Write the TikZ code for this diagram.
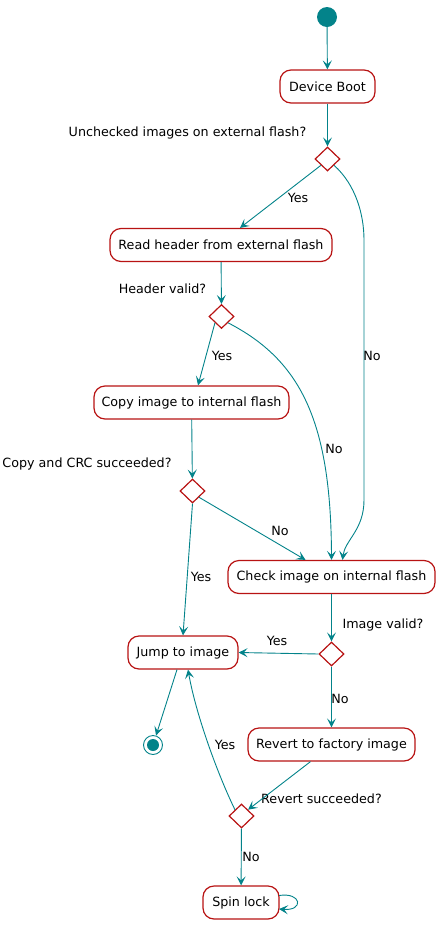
\documentclass[tikz,border=0pt]{standalone}
\usepackage{fontspec}
\setmainfont{DejaVu Sans}
\usetikzlibrary{shapes.geometric,arrows.meta,calc}
\definecolor{teal1}{HTML}{03838A}
\definecolor{red1}{HTML}{B81313}
\tikzset{
  act/.style={draw=red1,line width=1.2pt,fill=white,rounded corners=11pt,minimum height=33pt,inner sep=0pt,font=\fontsize{12.7}{14}\selectfont},
  dec/.style={draw=red1,line width=1.2pt,fill=white,shape=diamond,minimum width=25pt,minimum height=24pt,inner sep=0pt},
  flow/.style={draw=teal1,line width=0.9pt,-{Stealth[length=9pt,width=9pt,inset=4pt]}},
  lbl/.style={font=\fontsize{12.7}{14}\selectfont,inner sep=0pt}
}
\begin{document}
\begin{tikzpicture}[x=1pt,y=-1pt]
\useasboundingbox (0,0) rectangle (445,930);
% nodes
\node[circle,fill=teal1,minimum size=20pt,inner sep=0pt] (start) at (327,17) {};
\node[act,minimum width=95pt] (boot) at (327.5,86.5) {Device Boot};
\node[dec] (d1) at (327.5,159) {};
\node[act,minimum width=222pt] (read) at (221,245) {Read header from external flash};
\node[dec] (d2) at (221.5,316.5) {};
\node[act,minimum width=195pt] (copy) at (191.5,402.5) {Copy image to internal flash};
\node[dec] (d3) at (192.5,491) {};
\node[act,minimum width=207pt] (check) at (331.5,577) {Check image on internal flash};
\node[dec] (d4) at (331.5,654) {};
\node[act,minimum width=110pt] (jump) at (183,652.5) {Jump to image};
\node[act,minimum width=167pt] (revert) at (331.5,744.5) {Revert to factory image};
\node[circle,draw=teal1,line width=0.9pt,minimum size=19pt,inner sep=0pt] (end) at (153,745) {};
\node[circle,fill=teal1,minimum size=12pt,inner sep=0pt] at (end) {};
\node[dec] (d5) at (241.5,816) {};
\node[act,minimum width=76pt] (spin) at (241,902.5) {Spin lock};
% decision labels
\node[lbl] (q1) at (187.5,133) {Unchecked images on external flash?};
\node[lbl] (q2) at (162.5,289) {Header valid?};
\node[lbl] (q3) at (87,464) {Copy and CRC succeeded?};
\node[lbl] (q4) at (383,625) {Image valid?};
\node[lbl] (q5) at (321.5,799) {Revert succeeded?};
% edges
\draw[flow] (start) -- (boot);
\draw[flow] (boot) -- (d1);
\draw[flow] (d1.south west) -- ([xshift=19pt]read.north);
\draw[flow] (d1.south east) .. controls (356,185) and (364,215) .. (364,240) -- (364,500) .. controls (364,530) and (345,540) .. ([xshift=11pt]check.north);
\draw[flow] (read) -- (d2);
\draw[flow] (d2.south west) -- ([xshift=6.5pt]copy.north);
\draw[flow] (d2.south east) .. controls (300,360) and (331,420) .. (check.north);
\draw[flow] (copy) -- (d3);
\draw[flow] (d3.south east) -- ([xshift=-26pt]check.north);
\draw[flow] (d3.south) -- (jump.north);
\draw[flow] (check) -- (d4);
\draw[flow] (d4.west) -- (jump.east);
\draw[flow] (d4) -- (revert);
\draw[flow] ([xshift=-6pt]jump.south) -- (end);
\draw[flow] ([xshift=-21pt]revert.south) -- (d5.north east);
\draw[flow] (d5.north west) .. controls (218,775) and (196,715) .. ([xshift=5pt]jump.south);
\draw[flow] (d5) -- (spin);
\coordinate (loopa) at (279,895.5);
\coordinate (loopb) at (279,909);
\draw[flow] (loopa) .. controls (302,892) and (304,911) .. (loopb);
% edge labels
\node[lbl] at (298,198) {Yes};
\node[lbl] at (372,356) {No};
\node[lbl] at (222,356) {Yes};
\node[lbl] at (334,449) {No};
\node[lbl] at (280,531) {No};
\node[lbl] at (201,577) {Yes};
\node[lbl] at (277,641) {Yes};
\node[lbl] at (340,699) {No};
\node[lbl] at (225,745) {Yes};
\node[lbl] at (251,857) {No};
\end{tikzpicture}
\end{document}
